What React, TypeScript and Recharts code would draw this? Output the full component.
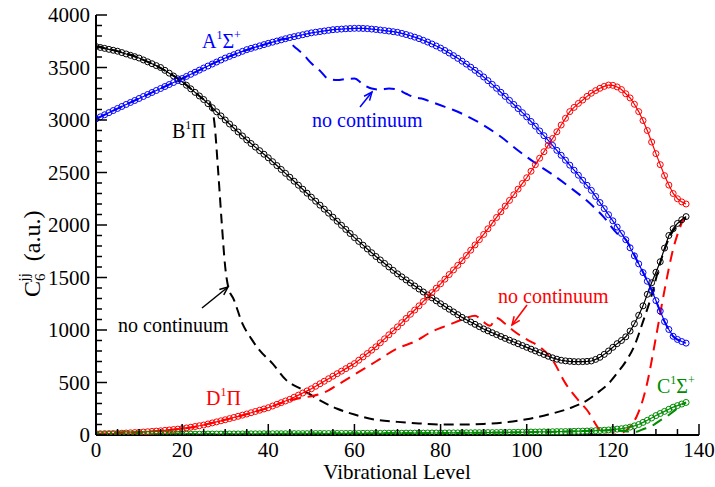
import { LineChart, Line, XAxis, YAxis } from "recharts";

// C6 dispersion coefficients (a.u.) per vibrational level 0..137
const A_STATE = [
  3010, 3030, 3050, 3070, 3090, 3110,
  3129, 3148, 3167, 3186, 3205,
  3224, 3243, 3262, 3281, 3300,
  3319, 3338, 3357, 3376, 3395,
  3415, 3435, 3455, 3475, 3495,
  3514, 3533, 3552, 3571, 3590,
  3606, 3622, 3638, 3654, 3670,
  3682, 3694, 3706, 3718, 3730,
  3741, 3752, 3763, 3774, 3785,
  3794, 3803, 3812, 3821, 3830,
  3836, 3842, 3848, 3854, 3860,
  3863, 3866, 3869, 3871, 3873,
  3873, 3872, 3870, 3866, 3862,
  3857, 3852, 3847, 3841, 3835,
  3825, 3814, 3802, 3789, 3775,
  3759, 3742, 3724, 3705, 3685,
  3662, 3638, 3613, 3587, 3560,
  3532, 3503, 3473, 3442, 3410,
  3375, 3339, 3302, 3264, 3225,
  3187, 3148, 3109, 3070, 3030,
  2986, 2941, 2896, 2851, 2805,
  2758, 2711, 2664, 2617, 2570,
  2522, 2474, 2426, 2378, 2330,
  2272, 2214, 2156, 2098, 2040,
  1980, 1920, 1860,
  1783, 1706, 1630,
  1547, 1464, 1380,
  1280, 1180, 1080,
  1005, 940,
  910, 890, 875,
];

const B_STATE = [
  3700, 3691, 3682, 3673, 3664, 3655,
  3642, 3629, 3616, 3603, 3590,
  3572, 3554, 3536, 3518, 3500,
  3473, 3446, 3419, 3392, 3365,
  3331, 3297, 3263, 3229, 3195,
  3156, 3117, 3078, 3039, 3000,
  2962, 2924, 2886, 2848, 2810,
  2776, 2742, 2708, 2674, 2640,
  2603, 2566, 2529, 2492, 2455,
  2417, 2379, 2341, 2303, 2265,
  2227, 2189, 2151, 2113, 2075,
  2036, 1997, 1958, 1919, 1880,
  1844, 1808, 1772, 1736, 1700,
  1667, 1634, 1601, 1568, 1535,
  1506, 1477, 1448, 1419, 1390,
  1362, 1334, 1306, 1278, 1250,
  1224, 1198, 1172, 1146, 1120,
  1098, 1076, 1054, 1032, 1010,
  992, 974, 956, 938, 920,
  903, 886, 869, 852, 835,
  818, 801, 784, 767, 750,
  735, 722, 712, 706, 702,
  699, 698, 699, 701, 705,
  720, 740, 768, 800, 835,
  870, 900, 935, 990, 1060,
  1140, 1230, 1340, 1450, 1550,
  1650, 1780, 1900, 1965, 2015,
  2050, 2080,
];

const D_STATE = [
  12, 12, 13, 13, 14, 15,
  17, 19, 21, 23, 25,
  28, 31, 34, 37, 40,
  44, 48, 52, 56, 60,
  67, 74, 81, 88, 95,
  105, 115, 125, 135, 145,
  156, 167, 178, 189, 200,
  212, 224, 236, 248, 260,
  276, 292, 308, 324, 340,
  360, 380, 400, 420, 440,
  464, 488, 512, 536, 560,
  584, 608, 632, 656, 680,
  712, 744, 776, 808, 840,
  878, 916, 954, 992, 1030,
  1070, 1110, 1150, 1190, 1230,
  1272, 1314, 1356, 1398, 1440,
  1484, 1528, 1572, 1616, 1660,
  1710, 1760, 1810, 1860, 1910,
  1964, 2018, 2072, 2126, 2180,
  2234, 2288, 2342, 2396, 2450,
  2512, 2574, 2636, 2698, 2760,
  2824, 2888, 2952, 3016, 3080,
  3120, 3158, 3190, 3225, 3255,
  3280, 3302, 3320, 3333, 3330,
  3315, 3290, 3250, 3210, 3150,
  3080, 2995, 2900, 2790, 2680,
  2575, 2470, 2380, 2300, 2250,
  2220, 2200,
];

const C_STATE = [
  5, 5, 5, 5, 5, 6, 6, 6, 6, 6, 6, 6, 7, 7, 7, 7, 7, 7, 8, 8,
  8, 8, 8, 8, 8, 9, 9, 9, 9, 9, 10, 10, 10, 10, 10, 11, 11, 11, 11, 12,
  12, 12, 12, 12, 12, 13, 13, 13, 13, 13, 14, 14, 14, 14, 14, 15, 15, 15, 15, 15,
  15, 15, 16, 16, 16, 16, 16, 17, 17, 17, 17, 17, 18, 18, 18, 18, 18, 19, 19, 19,
  19, 19, 20, 20, 20, 21, 21, 21, 22, 22, 22, 23, 23, 23, 24, 24, 25, 25, 26, 26,
  27, 28, 28, 29, 30, 30, 31, 32, 32, 33,
  34, 35, 36, 37, 38, 40, 41, 43, 45, 48,
  52, 56, 60, 67, 75, 87, 100, 120, 140, 162,
  185, 205, 225, 245, 265, 280, 295, 310,
];

// "no continuum" curves, [level, C6]
const A_NO_CONT = [
  [0, 3010], [10, 3205], [20, 3395], [30, 3590], [40, 3730], [44, 3774],
  [46, 3700], [48, 3630], [50, 3540], [52, 3470], [54, 3390], [56, 3380],
  [58, 3390], [60, 3395], [62, 3340], [64, 3300], [66, 3290], [68, 3300],
  [70, 3290], [72, 3250], [74, 3215], [76, 3200], [78, 3170], [80, 3140],
  [83, 3095], [86, 3040], [90, 2950], [94, 2840], [98, 2710], [102, 2590],
  [106, 2480], [110, 2360], [114, 2230], [118, 2070], [121, 1920], [123, 1860],
  [126, 1630], [129, 1380], [132, 1080], [134, 940], [136, 890], [137, 875],
];

const B_NO_CONT = [
  [0, 3700], [10, 3590], [20, 3365], [25, 3195], [26.5, 3150], [27.5, 2970],
  [28.4, 2490], [29.2, 2016], [30, 1600], [30.7, 1410], [32, 1290], [34, 1060],
  [36, 920], [38, 805], [41, 680], [44, 530], [48, 430], [52, 330], [56, 250],
  [60, 195], [65, 145], [70, 125], [75, 110], [80, 100], [85, 100], [90, 105],
  [95, 120], [100, 150], [105, 195], [110, 255], [114, 330], [117, 420],
  [119, 490], [121, 590], [123, 700], [125, 850], [127, 1080], [129, 1330],
  [131, 1640], [133, 1870], [135, 2000], [137, 2070],
];

const D_NO_CONT = [
  [0, 12], [20, 60], [30, 145], [40, 260], [45, 330], [48, 355], [50, 370],
  [53, 405], [56, 475], [60, 575], [65, 700], [70, 825], [74, 890], [78, 985],
  [82, 1050], [85, 1100], [88, 1135], [90, 1075], [91.5, 1040], [93, 1115],
  [95, 1060], [97, 990], [100, 910], [103, 840], [106, 714], [109, 492],
  [112, 330], [114, 238], [117, 48], [119, 0], [121, 5], [122, 16], [124, 80],
  [125.5, 174], [127, 340], [128, 500], [130, 930], [132, 1380], [134, 1770],
  [136, 2020], [137, 2110],
];

const C_NO_CONT = [
  [0, 5], [40, 12], [80, 19], [110, 34], [115, 40], [118, 44], [120, 45],
  [122, 40], [124, 32], [125.5, 32], [127, 55], [129, 85], [131, 140],
  [133, 190], [134, 222], [135, 255], [136, 290], [137, 310],
];

const X_MAJOR = [0, 20, 40, 60, 80, 100, 120, 140];
const Y_MAJOR = [0, 500, 1000, 1500, 2000, 2500, 3000, 3500, 4000];
const X_TICKS = Array.from({ length: 29 }, (_, i) => i * 5);
const Y_TICKS = Array.from({ length: 41 }, (_, i) => i * 100);

const BLUE = "#0000ff";
const BLACK = "#000000";
const RED = "#ff0000";
const GREEN = "#008b00";
const FONT = '"Times New Roman", "Liberation Serif", "DejaVu Serif", serif';
const TXT = { fontFamily: FONT };

const solidRows = A_STATE.map((_, i) => ({
  v: i,
  a: A_STATE[i],
  b: B_STATE[i],
  d: D_STATE[i],
  c: C_STATE[i],
}));
const toRows = (pts: number[][]) => pts.map(([v, y]) => ({ v, y }));

const isMajorX = (v: number) => X_MAJOR.includes(v);
const isMajorY = (v: number) => Y_MAJOR.includes(v);

function BottomTick({ x, y, payload }: any) {
  const major = isMajorX(payload.value);
  return (
    <g>
      <line x1={x} y1={y} x2={x} y2={y - (major ? 11 : 6)} stroke="#000" strokeWidth={1.5} />
      {major && (
        <text x={x} y={y + 22} textAnchor="middle" fontSize={21} style={TXT} fill="#000">
          {payload.value}
        </text>
      )}
    </g>
  );
}

function TopTick({ x, y, payload }: any) {
  const major = isMajorX(payload.value);
  return <line x1={x} y1={y} x2={x} y2={y + (major ? 11 : 6)} stroke="#000" strokeWidth={1.5} />;
}

function LeftTick({ x, y, payload }: any) {
  const major = isMajorY(payload.value);
  return (
    <g>
      <line x1={x} y1={y} x2={x + (major ? 11 : 6)} y2={y} stroke="#000" strokeWidth={1.5} />
      {major && (
        <text x={x - 6} y={y + 7} textAnchor="end" fontSize={21} style={TXT} fill="#000">
          {payload.value}
        </text>
      )}
    </g>
  );
}

function RightTick({ x, y, payload }: any) {
  const major = isMajorY(payload.value);
  return <line x1={x} y1={y} x2={x - (major ? 11 : 6)} y2={y} stroke="#000" strokeWidth={1.5} />;
}

function Arrow({ x1, y1, x2, y2, color }: any) {
  const ang = Math.atan2(y2 - y1, x2 - x1);
  const len = 9;
  const spread = 0.4;
  const p1 = [x2 - len * Math.cos(ang - spread), y2 - len * Math.sin(ang - spread)];
  const p2 = [x2 - len * Math.cos(ang + spread), y2 - len * Math.sin(ang + spread)];
  return (
    <g stroke={color} strokeWidth={1.5} fill="none">
      <line x1={x1} y1={y1} x2={x2} y2={y2} />
      <polyline points={`${p1[0]},${p1[1]} ${x2},${y2} ${p2[0]},${p2[1]}`} />
    </g>
  );
}

const dot = (color: string) => ({ r: 3, stroke: color, strokeWidth: 1, fill: "none" });

export default function App() {
  return (
    <div style={{ position: "absolute", left: 0, top: 0, width: 715, height: 487, background: "#fff", fontFamily: FONT }}>
      <LineChart width={715} height={487} margin={{ top: 15, right: 16, bottom: 0, left: 0 }}>
        <XAxis
          xAxisId="top"
          orientation="top"
          type="number"
          dataKey="v"
          domain={[0, 140]}
          ticks={X_TICKS}
          interval={0}
          height={0}
          tickSize={0}
          tickMargin={0}
          tickLine={false}
          tick={(p: any) => <TopTick {...p} />}
          axisLine={{ stroke: "#000", strokeWidth: 2 }}
          allowDataOverflow
        />
        <XAxis
          type="number"
          dataKey="v"
          domain={[0, 140]}
          ticks={X_TICKS}
          interval={0}
          height={52}
          tickSize={0}
          tickMargin={0}
          tickLine={false}
          tick={(p: any) => <BottomTick {...p} />}
          axisLine={{ stroke: "#000", strokeWidth: 2 }}
          allowDataOverflow
        />
        <YAxis
          type="number"
          domain={[0, 4000]}
          ticks={Y_TICKS}
          interval={0}
          width={96}
          tickSize={0}
          tickMargin={0}
          tickLine={false}
          tick={(p: any) => <LeftTick {...p} />}
          axisLine={{ stroke: "#000", strokeWidth: 2 }}
          allowDataOverflow
        />
        <YAxis
          yAxisId="right"
          orientation="right"
          type="number"
          domain={[0, 4000]}
          ticks={Y_TICKS}
          interval={0}
          width={0}
          tickSize={0}
          tickMargin={0}
          tickLine={false}
          tick={(p: any) => <RightTick {...p} />}
          axisLine={{ stroke: "#000", strokeWidth: 2 }}
          allowDataOverflow
        />

        {/* no continuum (dashed) */}
        <Line data={toRows(A_NO_CONT)} dataKey="y" type="monotoneX" stroke={BLUE} strokeWidth={2}
          strokeDasharray="11 7" dot={false} activeDot={false} isAnimationActive={false} />
        <Line data={toRows(B_NO_CONT)} dataKey="y" type="monotoneX" stroke={BLACK} strokeWidth={2}
          strokeDasharray="10 6" dot={false} activeDot={false} isAnimationActive={false} />
        <Line data={toRows(D_NO_CONT)} dataKey="y" type="monotoneX" stroke={RED} strokeWidth={2}
          strokeDasharray="11 7" dot={false} activeDot={false} isAnimationActive={false} />
        <Line data={toRows(C_NO_CONT)} dataKey="y" type="monotoneX" stroke={GREEN} strokeWidth={2}
          strokeDasharray="11 7" dot={false} activeDot={false} isAnimationActive={false} />

        {/* full calculation (circles) */}
        <Line data={solidRows} dataKey="b" stroke={BLACK} strokeWidth={1.2} dot={dot(BLACK)}
          activeDot={false} isAnimationActive={false} />
        <Line data={solidRows} dataKey="a" stroke={BLUE} strokeWidth={1.2} dot={dot(BLUE)}
          activeDot={false} isAnimationActive={false} />
        <Line data={solidRows} dataKey="d" stroke={RED} strokeWidth={1.2} dot={dot(RED)}
          activeDot={false} isAnimationActive={false} />
        <Line data={solidRows} dataKey="c" stroke={GREEN} strokeWidth={1.2} dot={dot(GREEN)}
          activeDot={false} isAnimationActive={false} />
      </LineChart>

      <svg width={715} height={487} style={{ position: "absolute", left: 0, top: 0, pointerEvents: "none", fontFamily: FONT }}>
        <text x={202} y={48} fill={BLUE} fontSize={20} style={TXT}>
          A<tspan dy={-9} fontSize={12}>1</tspan><tspan dy={9}>Σ</tspan><tspan dy={-9} fontSize={12}>+</tspan>
        </text>
        <text x={312} y={127} fill={BLUE} fontSize={20} style={TXT}>no continuum</text>
        <Arrow x1={360} y1={107} x2={372} y2={92} color={BLUE} />

        <text x={172} y={138} fill={BLACK} fontSize={20} style={TXT}>
          B<tspan dy={-9} fontSize={12}>1</tspan><tspan dy={9}>Π</tspan>
        </text>
        <text x={118} y={332} fill={BLACK} fontSize={20} style={TXT}>no continuum</text>
        <Arrow x1={202} y1={308} x2={228} y2={287} color={BLACK} />

        <text x={498} y={303} fill={RED} fontSize={20} style={TXT}>no continuum</text>
        <Arrow x1={527} y1={305} x2={512} y2={325} color={RED} />
        <text x={206} y={405} fill={RED} fontSize={20} style={TXT}>
          D<tspan dy={-9} fontSize={12}>1</tspan><tspan dy={9}>Π</tspan>
        </text>

        <text x={657} y={393} fill={GREEN} fontSize={20} style={TXT}>
          C<tspan dy={-9} fontSize={12}>1</tspan><tspan dy={9}>Σ</tspan><tspan dy={-9} fontSize={12}>+</tspan>
        </text>

        <text x={397} y={479} textAnchor="middle" fontSize={21} fill="#000" style={TXT}>Vibrational Level</text>
        <text x={40} y={297} fontSize={24} fill="#000" style={TXT} transform="rotate(-90 40 297)">
          C<tspan dy={5} fontSize={15}>6</tspan><tspan dx={-8} dy={-16} fontSize={15}>jj</tspan>
          <tspan dx={6} dy={11}> (a.u.)</tspan>
        </text>
      </svg>
    </div>
  );
}
